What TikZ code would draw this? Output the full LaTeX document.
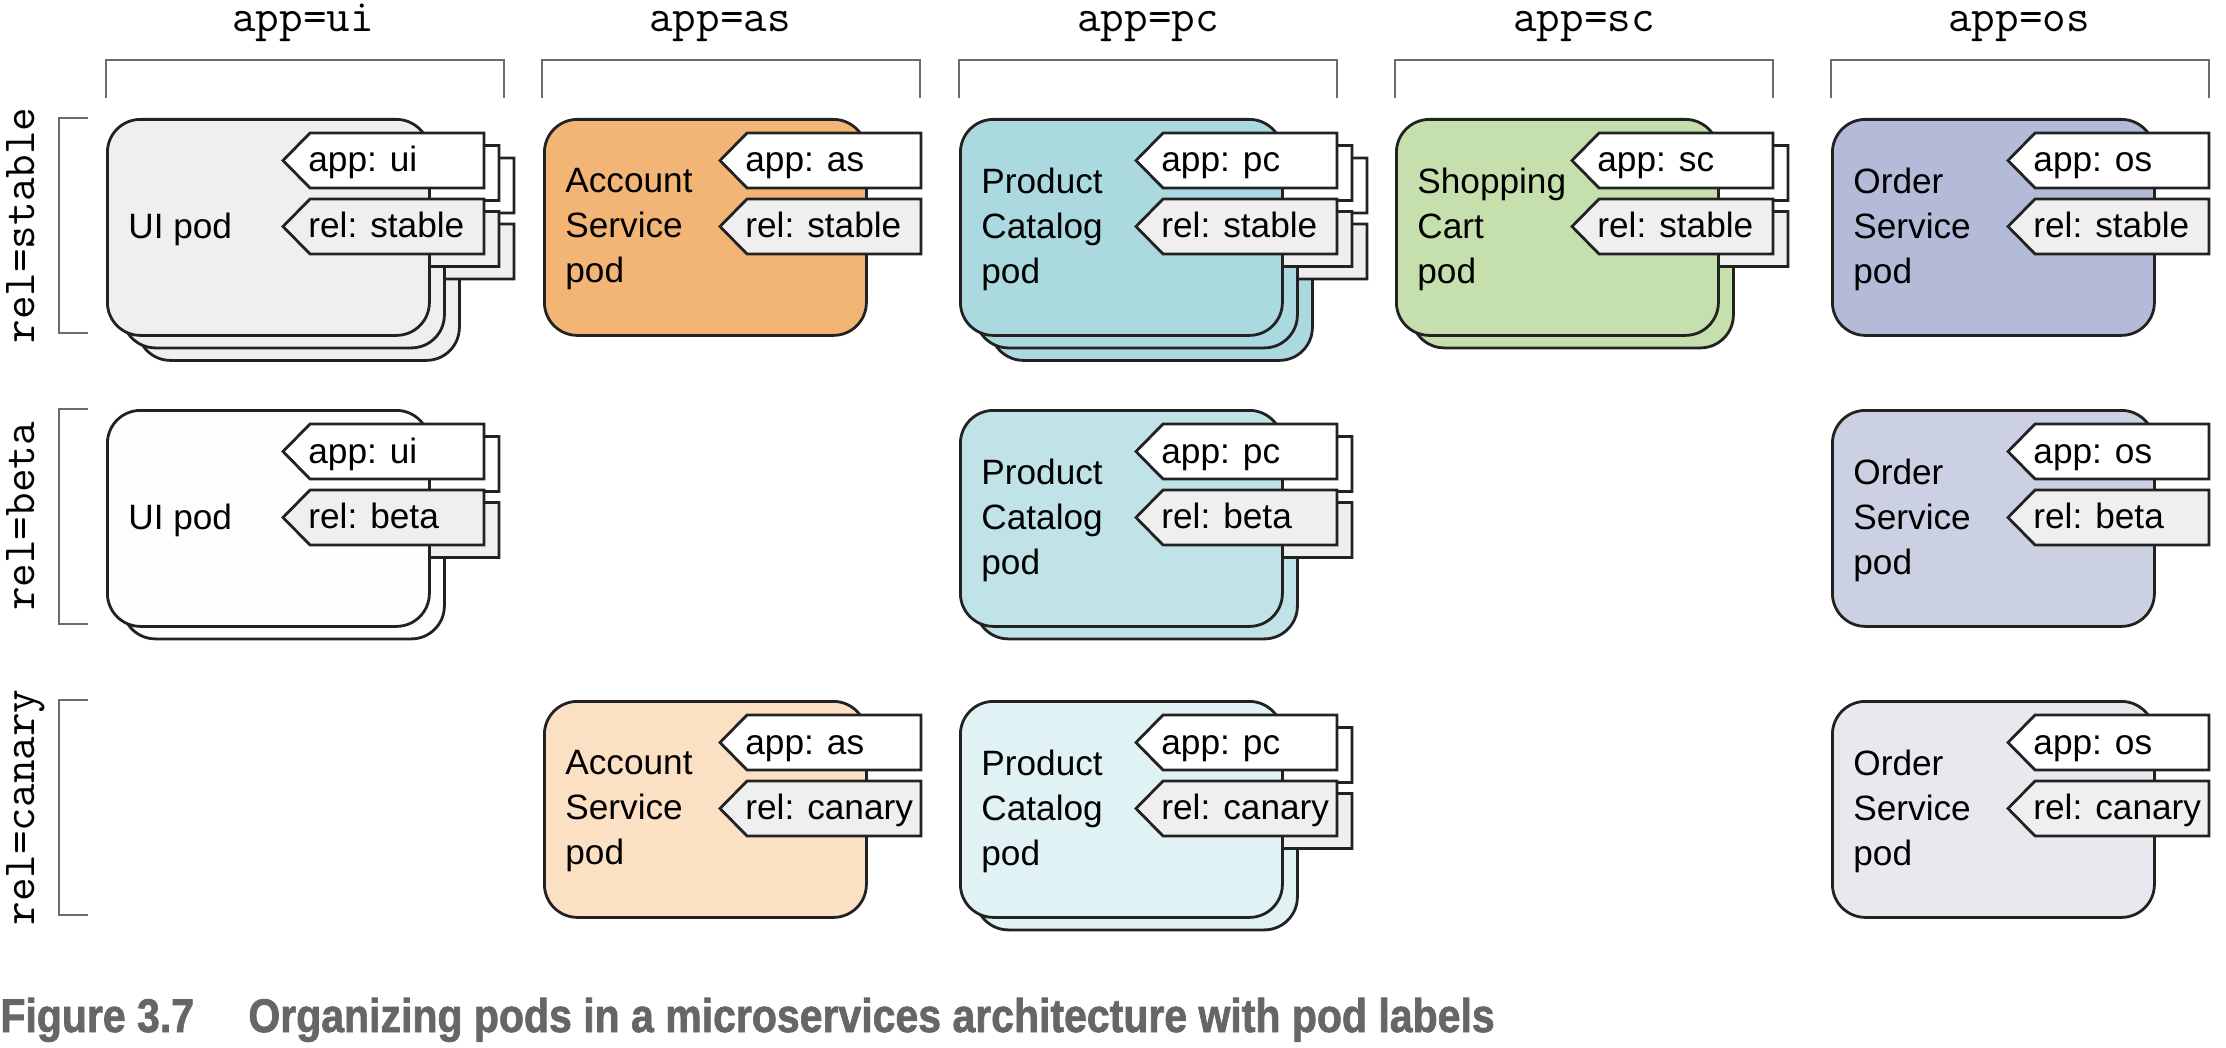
\documentclass[tikz,border=0pt]{standalone}
\usepackage{fontspec}
\usepackage{graphicx}
\setmainfont{Liberation Sans}
\newfontfamily\hdrfont{Latin Modern Mono}
\newfontfamily\capfont[BoldFeatures={FakeBold=1.6}]{Liberation Sans}
\definecolor{podline}{HTML}{222222}
\definecolor{brk}{HTML}{6B6B6B}
\definecolor{relgray}{HTML}{EFEFEF}
\definecolor{capgray}{HTML}{666666}
\definecolor{uiS}{HTML}{EFEFEE}
\definecolor{uiB}{HTML}{FDFDFB}
\definecolor{asS}{HTML}{F2B575}
\definecolor{asC}{HTML}{FCE0C3}
\definecolor{pcS}{HTML}{AADAE0}
\definecolor{pcB}{HTML}{C0E3E7}
\definecolor{pcC}{HTML}{E0F2F3}
\definecolor{scS}{HTML}{C5E0AD}
\definecolor{osS}{HTML}{B4BBD9}
\definecolor{osB}{HTML}{CCD0E3}
\definecolor{osC}{HTML}{E8E9EF}
\tikzset{
  podbox/.style={draw=podline, line width=1.4pt, rounded corners=16.5pt,
    minimum width=161pt, minimum height=108pt, inner sep=0pt, anchor=north west},
  tagline/.style={draw=podline, line width=1.4pt, line join=miter},
  podtext/.style={anchor=west, align=left, inner sep=0pt, text=black,
    font=\fontsize{17.6pt}{22.5pt}\selectfont},
  tagtext/.style={anchor=base west, inner sep=0pt, text=black,
    font=\fontsize{17.6pt}{22.5pt}\selectfont},
  hdr/.style={anchor=base, inner sep=0pt, text=black,
    font=\hdrfont\fontsize{22.9pt}{26pt}\selectfont},
  bracket/.style={draw=brk, line width=1.3pt},
  capstyle/.style={anchor=base west, inner sep=0pt, text=capgray,
    font=\capfont\bfseries\fontsize{20.5pt}{24pt}\selectfont}
}
\newcommand{\podlayer}[4]{%
  \node[podbox, fill=#3] (#4) at ({#1},{#2}) {};
  \draw[tagline, fill=white] ({#1+177},{#2+42.5}) -- ({#1+204},{#2+15}) -- ({#1+378},{#2+15}) -- ({#1+378},{#2+70}) -- ({#1+204},{#2+70}) -- cycle;
  \draw[tagline, fill=relgray] ({#1+177},{#2+108.5}) -- ({#1+204},{#2+81}) -- ({#1+378},{#2+81}) -- ({#1+378},{#2+136}) -- ({#1+204},{#2+136}) -- cycle;
}
\newcommand{\pod}[8]{%
  \ifnum#5>2 \podlayer{#1+30}{#2+25}{#3}{#4-c2}\fi
  \ifnum#5>1 \podlayer{#1+15}{#2+12.5}{#3}{#4-c1}\fi
  \podlayer{#1}{#2}{#3}{#4}
  \node[podtext] (#4-text) at ({#1+22},{#2+111}) {#6};
  \node[tagtext] (#4-app) at ({#1+202},{#2+54}) {#7};
  \node[tagtext] (#4-rel) at ({#1+202},{#2+119.5}) {#8};
}
\begin{document}
\begin{tikzpicture}[x=0.5pt, y=-0.5pt]
\fill[white] (0,0) rectangle (2226,1048);
\useasboundingbox (0,0) rectangle (2226,1048);
% column headers
\node[hdr] (h-ui) at (303,32) {app=ui};
\node[hdr] (h-as) at (720,32) {app=as};
\node[hdr] (h-pc) at (1148,32) {app=pc};
\node[hdr] (h-sc) at (1584,32) {app=sc};
\node[hdr] (h-os) at (2019,32) {app=os};
\draw[bracket] (106,98) -- (106,60) -- (504,60) -- (504,98);
\draw[bracket] (542,98) -- (542,60) -- (920,60) -- (920,98);
\draw[bracket] (959,98) -- (959,60) -- (1337,60) -- (1337,98);
\draw[bracket] (1395,98) -- (1395,60) -- (1773,60) -- (1773,98);
\draw[bracket] (1831,98) -- (1831,60) -- (2209,60) -- (2209,98);
% row labels
\node[hdr, rotate=90] (r-stable) at (34,225.5) {rel=stable};
\node[hdr, rotate=90] (r-beta) at (34,516.5) {rel=beta};
\node[hdr, rotate=90] (r-canary) at (34,807.5) {rel=canary};
\draw[bracket] (88,118) -- (59,118) -- (59,333) -- (88,333);
\draw[bracket] (88,409) -- (59,409) -- (59,624) -- (88,624);
\draw[bracket] (88,700) -- (59,700) -- (59,915) -- (88,915);
% stable row
\pod{106}{118}{uiS}{ui-stable}{3}{UI pod}{app: ui}{rel: stable}
\pod{543}{118}{asS}{as-stable}{1}{Account\\Service\\pod}{app: as}{rel: stable}
\pod{959}{118}{pcS}{pc-stable}{3}{Product\\Catalog\\pod}{app: pc}{rel: stable}
\pod{1395}{118}{scS}{sc-stable}{2}{Shopping\\Cart\\pod}{app: sc}{rel: stable}
\pod{1831}{118}{osS}{os-stable}{1}{Order\\Service\\pod}{app: os}{rel: stable}
% beta row
\pod{106}{409}{uiB}{ui-beta}{2}{UI pod}{app: ui}{rel: beta}
\pod{959}{409}{pcB}{pc-beta}{2}{Product\\Catalog\\pod}{app: pc}{rel: beta}
\pod{1831}{409}{osB}{os-beta}{1}{Order\\Service\\pod}{app: os}{rel: beta}
% canary row
\pod{543}{700}{asC}{as-canary}{1}{Account\\Service\\pod}{app: as}{rel: canary}
\pod{959}{700}{pcC}{pc-canary}{2}{Product\\Catalog\\pod}{app: pc}{rel: canary}
\pod{1831}{700}{osC}{os-canary}{1}{Order\\Service\\pod}{app: os}{rel: canary}
% caption
\node[capstyle] (cap-num) at (0,1032) {\scalebox{1}[1.15]{Figure 3.7}};
\node[capstyle] (cap-text) at (248,1032) {\scalebox{1}[1.15]{Organizing pods in a microservices architecture with pod labels}};
\end{tikzpicture}
\end{document}
